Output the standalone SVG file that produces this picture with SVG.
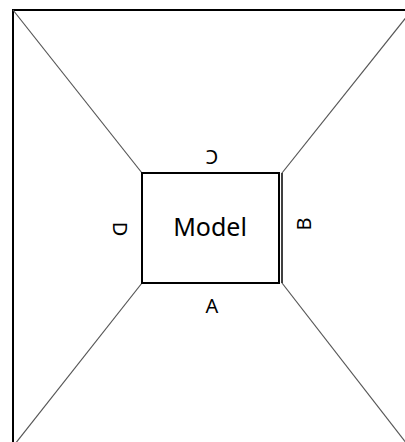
<svg xmlns="http://www.w3.org/2000/svg" width="405" height="442" viewBox="0 0 405 442">
<style>
.frame{fill:none;stroke:#000;stroke-width:2}
.conn{stroke:#555;stroke-width:1.2;fill:none}
.box{fill:#fff;stroke:#000;stroke-width:2}
.lbl{font-family:"Noto Sans",sans-serif;font-size:20px;fill:#000;text-anchor:middle;dominant-baseline:central}
.title{font-family:"Noto Sans",sans-serif;font-size:25px;fill:#000;text-anchor:middle}
</style>
<rect width="405" height="442" fill="#fff"/>
<g id="frame"><rect class="frame" x="13" y="10" width="420" height="460"/></g>
<g id="connectors">
<line class="conn" x1="13" y1="10" x2="142" y2="173"/>
<line class="conn" x1="412" y1="10" x2="282" y2="173"/>
<line class="conn" x1="142" y1="283" x2="15" y2="444"/>
<line class="conn" x1="282" y1="283" x2="407" y2="444"/>
</g>
<g id="model">
<rect class="box" x="142" y="173" width="137" height="110"/>
<line x1="282" y1="173" x2="282" y2="283" stroke="#000" stroke-width="1.5"/>
<text class="title" x="210" y="236">Model</text>
</g>
<g id="labelA"><text class="lbl" x="212" y="305">A</text></g>
<g id="labelB"><text class="lbl" transform="translate(303,224) rotate(-90)">B</text></g>
<g id="labelC"><text class="lbl" transform="translate(212,157) rotate(180)">C</text></g>
<g id="labelD"><text class="lbl" transform="translate(120,229) rotate(90)">D</text></g>
</svg>
